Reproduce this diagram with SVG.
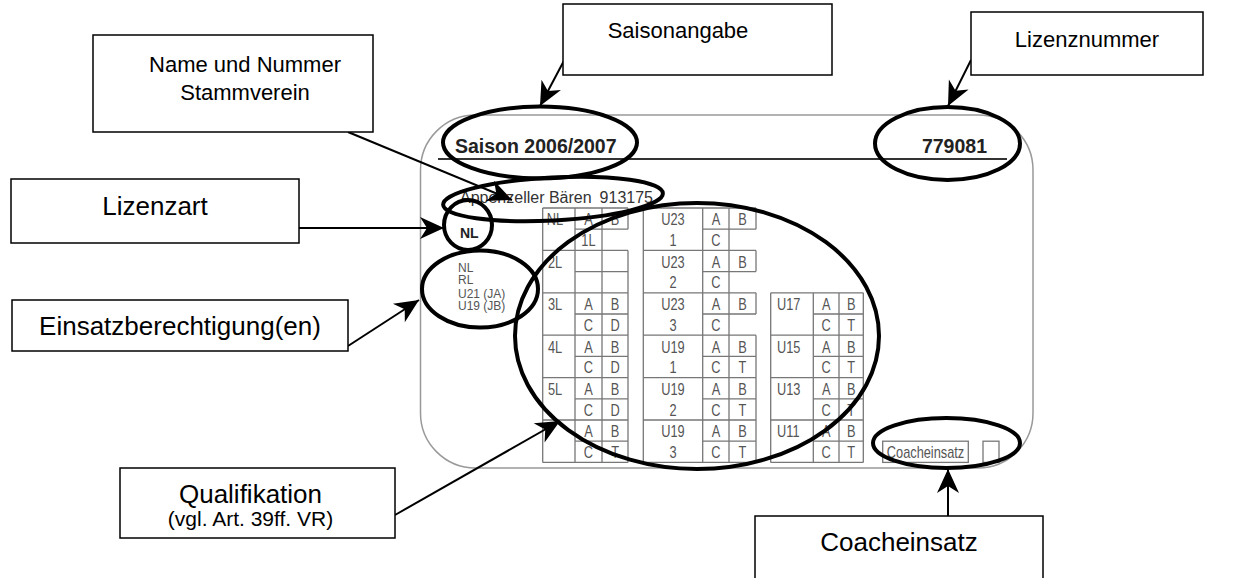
<svg xmlns="http://www.w3.org/2000/svg" width="1235" height="578" viewBox="0 0 1235 578">
<style>
.box{fill:#fff;stroke:#000;stroke-width:1.5}
.lbl{font-family:"Liberation Sans",Arial,sans-serif;fill:#000;text-anchor:middle}
.t22{font-size:22px}
.t26{font-size:26px}
.ell{fill:none;stroke:#000;stroke-width:4}
.conn{stroke:#000;stroke-width:2;fill:none;marker-end:url(#ah)}
.grid{stroke:#777;stroke-width:1.3;fill:none}
.gt{font-family:"Liberation Sans",Arial,sans-serif;font-size:16px;fill:#555;text-anchor:middle}
.gs{text-anchor:start}
.card{font-family:"Liberation Sans",Arial,sans-serif}
</style>
<defs>
<marker id="ah" markerUnits="userSpaceOnUse" viewBox="-25 -12 26 24" markerWidth="26" markerHeight="24" refX="0" refY="0" orient="auto">
<path d="M0,0 L-24,-11 L-17,0 L-24,11 Z" fill="#000"/>
</marker>
</defs>
<rect width="1235" height="578" fill="#fff"/>

<g id="card">
<rect x="420.5" y="115" width="612.5" height="353" rx="55" ry="55" fill="#fff" stroke="#999" stroke-width="1.5"/>
<line x1="438" y1="159" x2="1007" y2="159" stroke="#333" stroke-width="2"/>
<text class="card" x="455" y="153" font-size="19.5" font-weight="bold" fill="#222">Saison 2006/2007</text>
<text class="card" x="987" y="153" font-size="19.5" font-weight="bold" fill="#222" text-anchor="end">779081</text>
<text class="card" y="203" font-size="16" fill="#333"><tspan x="460">Appenzeller Bären</tspan><tspan x="599.6">913175</tspan></text>
<text class="card" x="460" y="238" font-size="14" font-weight="bold" fill="#222">NL</text>
<g class="card" font-size="12" fill="#555">
<text x="458" y="272">NL</text>
<text x="458" y="284">RL</text>
<text x="458" y="298">U21 (JA)</text>
<text x="458" y="310">U19 (JB)</text>
</g>
<path class="grid" d="M542.7,208V462.4M575,208V462.4M602,208V462.4M628,208V229.2M628,250.4V462.4
M542.7,208H628M542.7,250.4H628M542.7,292.8H628M542.7,335.2H628M542.7,377.6H628M542.7,420H628M542.7,462.4H628
M575,229.2H628M575,271.6H628M575,314H628M575,356.4H628M575,398.8H628M575,441.2H628
M643.3,208V462.4M702.7,208V462.4M729,208V462.4M756,208V229.2M756,250.4V271.6M756,292.8V314M756,335.2V462.4
M643.3,208H756M643.3,250.4H756M643.3,292.8H756M643.3,335.2H756M643.3,377.6H756M643.3,420H756M643.3,462.4H756
M702.7,229.2H756M702.7,271.6H756M702.7,314H756M702.7,356.4H756M702.7,398.8H756M702.7,441.2H756
M770.7,292.8V462.4M813.3,292.8V462.4M839,292.8V462.4M863.3,292.8V462.4
M770.7,292.8H863.3M770.7,335.2H863.3M770.7,377.6H863.3M770.7,420H863.3M770.7,462.4H863.3
M813.3,314H863.3M813.3,356.4H863.3M813.3,398.8H863.3M813.3,441.2H863.3"/>
<rect class="grid" x="882.7" y="441.2" width="85.6" height="21.2"/>
<rect class="grid" x="983" y="441.2" width="16" height="21.2"/>
<g class="gt" transform="scale(0.8,1)">
<text x="693.75" y="225.5">NL</text><text x="735.6" y="225.5">A</text><text x="768.8" y="225.5">B</text><text x="735.6" y="246">1L</text>
<text x="693.75" y="267.9">2L</text>
<text x="693.75" y="310.3">3L</text><text x="735.6" y="310.3">A</text><text x="768.8" y="310.3">B</text><text x="735.6" y="330.8">C</text><text x="768.8" y="330.8">D</text>
<text x="693.75" y="352.7">4L</text><text x="735.6" y="352.7">A</text><text x="768.8" y="352.7">B</text><text x="735.6" y="373.2">C</text><text x="768.8" y="373.2">D</text>
<text x="693.75" y="395.1">5L</text><text x="735.6" y="395.1">A</text><text x="768.8" y="395.1">B</text><text x="735.6" y="415.6">C</text><text x="768.8" y="415.6">D</text>
<text x="735.6" y="437.5">A</text><text x="768.8" y="437.5">B</text><text x="735.6" y="458">C</text><text x="768.8" y="458">T</text>

<text x="841.25" y="225.5">U23</text><text x="841.25" y="246">1</text><text x="894.9" y="225.5">A</text><text x="928.1" y="225.5">B</text><text x="894.9" y="246">C</text>
<text x="841.25" y="267.9">U23</text><text x="841.25" y="288.4">2</text><text x="894.9" y="267.9">A</text><text x="928.1" y="267.9">B</text><text x="894.9" y="288.4">C</text>
<text x="841.25" y="310.3">U23</text><text x="841.25" y="330.8">3</text><text x="894.9" y="310.3">A</text><text x="928.1" y="310.3">B</text><text x="894.9" y="330.8">C</text>
<text x="841.25" y="352.7">U19</text><text x="841.25" y="373.2">1</text><text x="894.9" y="352.7">A</text><text x="928.1" y="352.7">B</text><text x="894.9" y="373.2">C</text><text x="928.1" y="373.2">T</text>
<text x="841.25" y="395.1">U19</text><text x="841.25" y="415.6">2</text><text x="894.9" y="395.1">A</text><text x="928.1" y="395.1">B</text><text x="894.9" y="415.6">C</text><text x="928.1" y="415.6">T</text>
<text x="841.25" y="437.5">U19</text><text x="841.25" y="458">3</text><text x="894.9" y="437.5">A</text><text x="928.1" y="437.5">B</text><text x="894.9" y="458">C</text><text x="928.1" y="458">T</text>

<text class="gs" x="971.25" y="310.3">U17</text><text x="1032.7" y="310.3">A</text><text x="1064" y="310.3">B</text><text x="1032.7" y="330.8">C</text><text x="1064" y="330.8">T</text>
<text class="gs" x="971.25" y="352.7">U15</text><text x="1032.7" y="352.7">A</text><text x="1064" y="352.7">B</text><text x="1032.7" y="373.2">C</text><text x="1064" y="373.2">T</text>
<text class="gs" x="971.25" y="395.1">U13</text><text x="1032.7" y="395.1">A</text><text x="1064" y="395.1">B</text><text x="1032.7" y="415.6">C</text><text x="1064" y="415.6">T</text>
<text class="gs" x="971.25" y="437.5">U11</text><text x="1032.7" y="437.5">A</text><text x="1064" y="437.5">B</text><text x="1032.7" y="458">C</text><text x="1064" y="458">T</text>
<text x="1156.9" y="458.5">Coacheinsatz</text>
</g>
</g>

<g id="highlights">
<ellipse class="ell" cx="540" cy="142.5" rx="97" ry="36"/>
<ellipse class="ell" cx="947.5" cy="143.5" rx="72.5" ry="36.5"/>
<ellipse class="ell" cx="553" cy="199" rx="110" ry="21.5" transform="rotate(-3 553 199)"/>
<ellipse class="ell" cx="468" cy="225" rx="24" ry="25"/>
<ellipse class="ell" cx="480" cy="289" rx="58" ry="38.5"/>
<ellipse class="ell" cx="697" cy="336" rx="182" ry="133"/>
<ellipse class="ell" cx="946.5" cy="443" rx="73.5" ry="25"/>
</g>

<g id="connectors">
<line class="conn" x1="348" y1="132" x2="512" y2="200"/>
<line class="conn" x1="567" y1="55" x2="540" y2="106"/>
<line class="conn" x1="971" y1="60" x2="948" y2="106"/>
<line class="conn" x1="299" y1="228" x2="444" y2="228"/>
<line class="conn" x1="348" y1="346" x2="419" y2="300"/>
<line class="conn" x1="395" y1="515" x2="560" y2="421"/>
<line class="conn" x1="948" y1="516" x2="948" y2="469"/>
</g>

<g id="node-saisonangabe">
<rect class="box" x="563" y="4" width="269" height="71"/>
<text class="lbl t22" x="678" y="38">Saisonangabe</text>
</g>
<g id="node-lizenznummer">
<rect class="box" x="971" y="12" width="232" height="63"/>
<text class="lbl t22" x="1087" y="47">Lizenznummer</text>
</g>
<g id="node-name">
<rect class="box" x="93" y="35" width="280" height="97"/>
<text class="lbl t22" x="245" y="72">Name und Nummer</text>
<text class="lbl t22" x="245" y="100">Stammverein</text>
</g>
<g id="node-lizenzart">
<rect class="box" x="11" y="179" width="288" height="64"/>
<text class="lbl t26" x="155" y="215">Lizenzart</text>
</g>
<g id="node-einsatz">
<rect class="box" x="12" y="300" width="336" height="51"/>
<text class="lbl t26" x="180" y="335">Einsatzberechtigung(en)</text>
</g>
<g id="node-qualifikation">
<rect class="box" x="120" y="468" width="275" height="70"/>
<text class="lbl t26" x="250.5" y="503">Qualifikation</text>
<text class="lbl" x="250.5" y="526" font-size="21">(vgl. Art. 39ff. VR)</text>
</g>
<g id="node-coacheinsatz">
<rect class="box" x="755" y="516" width="288" height="72"/>
<text class="lbl t26" x="899" y="551">Coacheinsatz</text>
</g>
</svg>
